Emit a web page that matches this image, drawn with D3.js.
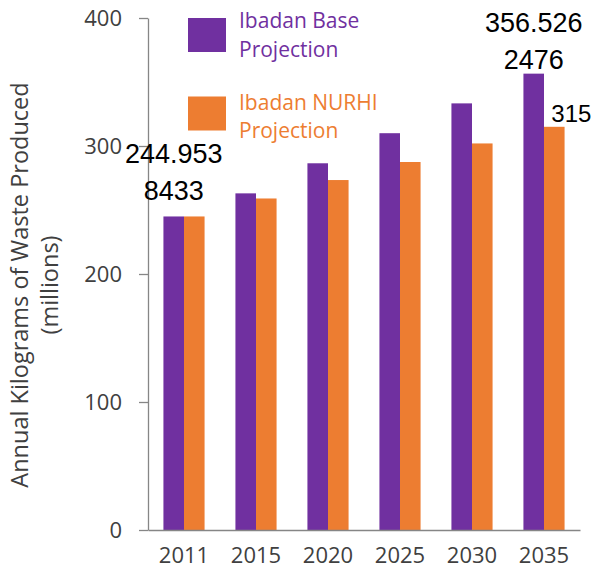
<!DOCTYPE html>
<html>
<head>
<meta charset="utf-8">
<script src="https://cdn.jsdelivr.net/npm/d3@7"></script>
<style>
  body { margin: 0; background: #fff; }
  svg { display: block; }
</style>
</head>
<body>
<div id="chart"></div>
<script>
// chart data
const years = ["2011", "2015", "2020", "2025", "2030", "2035"];
const baseValues = [244.9538433, 263, 286.5, 310, 333.3, 356.5262476];
const nurhiValues = [244.9538433, 259, 273.4, 287.5, 302, 315];
const seriesNames = ["Ibadan Base Projection", "Ibadan NURHI Projection"];
const yTicks = [0, 100, 200, 300, 400];

// value labels shown in the picture (wrapped as in the original)
const valueLabels = [
    {series: 0, year: "2011", lines: ["244.953", "8433"]},
    {series: 0, year: "2035", lines: ["356.526", "2476"]},
    {series: 1, year: "2035", lines: ["315"]}
];

const PURPLE = "#7030A0";
const ORANGE = "#ED7D31";
const colors = [PURPLE, ORANGE];

const width = 595, height = 569;

const svg = d3.select("#chart").append("svg")
    .attr("width", width)
    .attr("height", height);

const x = d3.scaleBand()
    .domain(years)
    .range([148, 580]);

const xInner = d3.scaleBand()
    .domain([0, 1])
    .range([0, x.bandwidth()])
    .paddingOuter(0.75);

const y = d3.scaleLinear()
    .domain([0, 400])
    .range([530, 18]);

const rows = years.map((yr, i) => ({year: yr, values: [baseValues[i], nurhiValues[i]]}));

// bars
const groups = svg.selectAll(".group")
    .data(rows)
    .enter().append("g")
    .attr("class", "group")
    .attr("transform", d => "translate(" + x(d.year) + ",0)");

groups.selectAll("rect")
    .data(d => d.values.map((v, s) => ({v: v, s: s})))
    .enter().append("rect")
    .attr("x", d => xInner(d.s))
    .attr("width", xInner.bandwidth())
    .attr("y", d => y(d.v))
    .attr("height", d => y(0) - y(d.v))
    .attr("fill", d => colors[d.s]);

// y axis
const yAxis = svg.append("g")
    .attr("transform", "translate(148,0)")
    .call(d3.axisLeft(y).tickValues(yTicks).tickSize(9).tickSizeOuter(0).tickPadding(17));

yAxis.select(".domain").attr("stroke", "#868686").attr("stroke-width", 1.3);
yAxis.selectAll(".tick line").attr("stroke", "#868686").attr("stroke-width", 1.3);
yAxis.selectAll(".tick text")
    .attr("fill", "#404040")
    .style("font-family", "'Open Sans', sans-serif")
    .style("font-size", "22px");

// x axis
const xAxis = svg.append("g")
    .attr("transform", "translate(0,530)")
    .call(d3.axisBottom(x).tickSize(0).tickSizeOuter(0).tickPadding(0));

xAxis.select(".domain").attr("stroke", "#868686").attr("stroke-width", 1.3);
xAxis.selectAll(".tick text")
    .attr("y", 33)
    .attr("dy", null)
    .attr("fill", "#404040")
    .style("font-family", "'Open Sans', sans-serif")
    .style("font-size", "22px");

// y title
const yTitle = svg.append("text")
    .attr("transform", "translate(28,285) rotate(-90)")
    .attr("text-anchor", "middle")
    .attr("fill", "#404040")
    .style("font-family", "'Open Sans', sans-serif")
    .style("font-size", "23.5px");

yTitle.append("tspan").attr("x", 0).attr("y", 0).text("Annual Kilograms of Waste Produced");
yTitle.append("tspan").attr("x", 0).attr("y", 30).text("(millions)");

// legend
const legend = svg.selectAll(".legend")
    .data(seriesNames)
    .enter().append("g")
    .attr("class", "legend");

legend.append("rect")
    .attr("x", 188)
    .attr("y", (d, i) => 18 + i * 78.5)
    .attr("width", 38)
    .attr("height", 34)
    .attr("fill", (d, i) => colors[i]);

const legendText = legend.append("text")
    .attr("fill", (d, i) => colors[i])
    .style("font-family", "'Open Sans', sans-serif")
    .style("font-size", "21px");

legendText.append("tspan")
    .attr("x", 239).attr("y", (d, i) => 28 + i * 82)
    .text(d => d.replace(" Projection", ""));
legendText.append("tspan")
    .attr("x", 239).attr("y", (d, i) => 56.5 + i * 81.5)
    .text("Projection");

// value labels
valueLabels.forEach(function(lbl) {
    const i = years.indexOf(lbl.year);
    const v = lbl.series === 0 ? baseValues[i] : nurhiValues[i];
    const bx = x(lbl.year) + xInner(lbl.series) + xInner.bandwidth() / 2;
    const single = lbl.lines.length === 1;
    const lift = lbl.year === "2011" ? 16 : 5;
    const fs = single ? 24 : 27;

    const t = svg.append("text")
        .attr("fill", "#000")
        .attr("text-anchor", single ? "start" : "middle")
        .style("font-family", "'Liberation Sans', Arial, sans-serif")
        .style("font-size", fs + "px");

    lbl.lines.forEach(function(line, k) {
        const n = lbl.lines.length;
        t.append("tspan")
            .attr("x", single ? bx - 3 : bx)
            .attr("y", y(v) - lift - (n - 1 - k) * 37)
            .text(line);
    });
});
</script>
</body>
</html>
